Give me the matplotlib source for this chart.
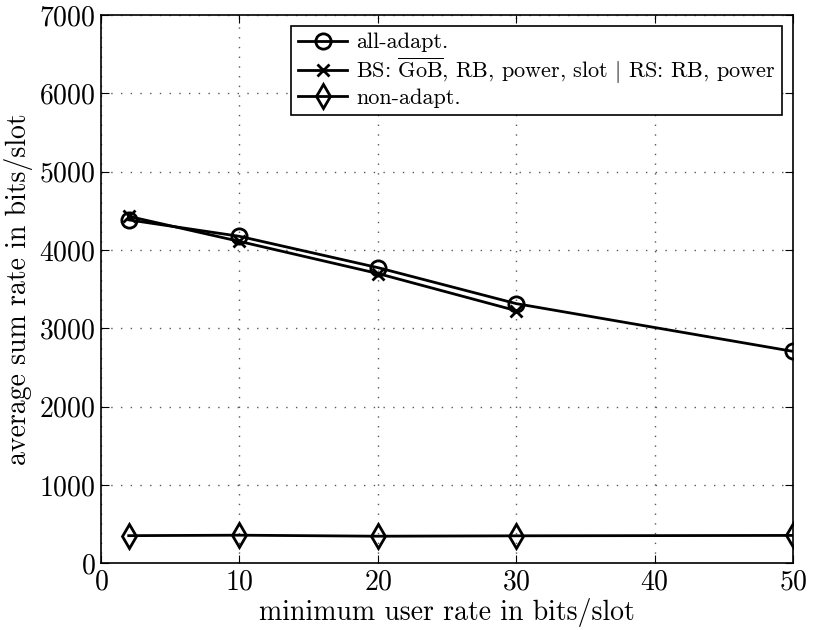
import numpy as np
import matplotlib.pyplot as plt

plt.rcParams['font.family'] = 'cmr10'
plt.rcParams['mathtext.fontset'] = 'cm'
plt.rcParams['axes.unicode_minus'] = False
plt.rcParams['axes.formatter.use_mathtext'] = True

# data
x_all = [2, 10, 20, 30, 50]
y_all = [4385, 4175, 3775, 3315, 2705]
x_bs = [2, 10, 20, 30]
y_bs = [4430, 4110, 3700, 3225]
x_non = [2, 10, 20, 30, 50]
y_non = [352, 358, 345, 350, 355]

lbl_all = 'all-adapt.'
lbl_bs = r'BS: $\overline{\mathrm{GoB}}$, RB, power, slot $|$ RS: RB, power'
lbl_non = 'non-adapt.'

fig = plt.figure(figsize=(8.35, 6.3), dpi=100)
ax = fig.add_axes([0.121, 0.106, 0.829, 0.870])

ax.plot(x_all, y_all, 'k-o', lw=2, ms=11, mew=2, mfc='none', label=lbl_all)
ax.plot(x_bs, y_bs, 'k-x', lw=2, ms=9, mew=2, label=lbl_bs)
ax.plot(x_non, y_non, 'k-d', lw=2, ms=12, mew=2, mfc='none', label=lbl_non)

ax.set_xlim(0, 50)
ax.set_ylim(0, 7000)
ax.set_xticks(np.arange(0, 51, 10))
ax.set_yticks(np.arange(0, 7001, 1000))
ax.tick_params(direction='in', top=True, right=True, labelsize=20, length=6, pad=4)
ax.grid(True, linestyle=(0, (1, 6)), color='0.35', lw=1.0)
for s in ax.spines.values():
    s.set_linewidth(1.2)

ax.set_xlabel('minimum user rate in bits/slot', fontsize=20, labelpad=2)
ax.set_ylabel('average sum rate in bits/slot', fontsize=20, labelpad=4)

leg = ax.legend(loc='upper right', fontsize=16, handlelength=2.2, labelspacing=0.12,
                borderpad=0.3, handletextpad=0.4, fancybox=False, framealpha=1,
                edgecolor='k', borderaxespad=0.5)
leg.get_frame().set_linewidth(1.2)

fig.savefig('out.png', dpi=100)
